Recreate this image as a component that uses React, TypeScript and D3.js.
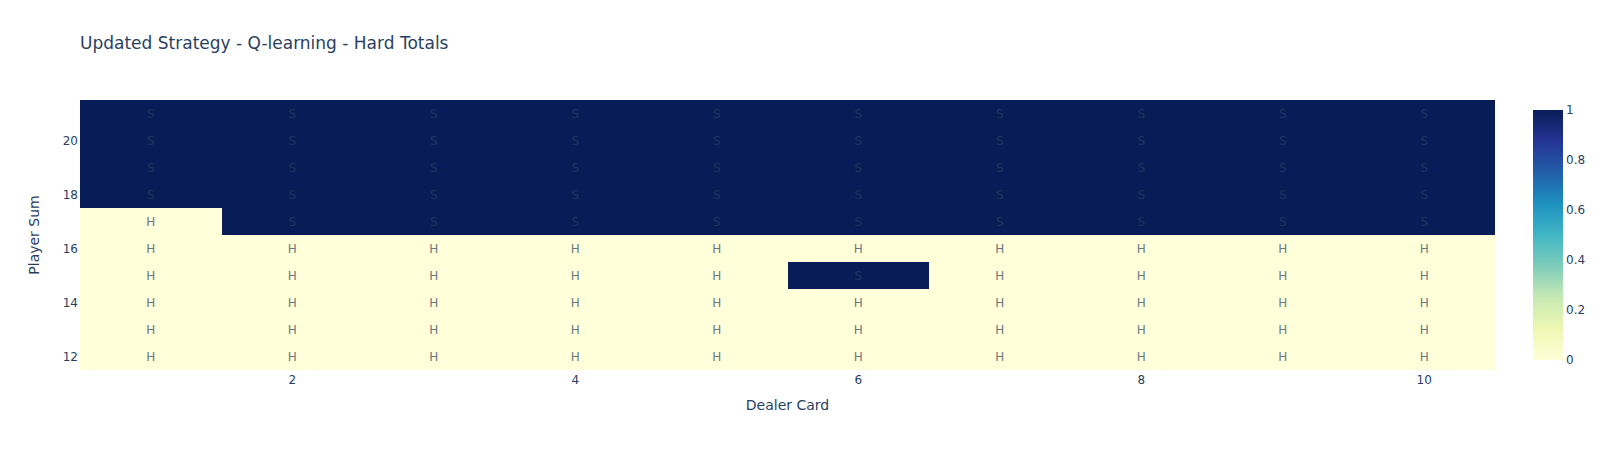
import { useEffect, useRef } from 'react'
import * as d3 from 'd3'

// dealer upcard columns, player sum rows
const dealerCards = [1, 2, 3, 4, 5, 6, 7, 8, 9, 10]
const playerSums = [12, 13, 14, 15, 16, 17, 18, 19, 20, 21]

// 1 = stick (S), 0 = hit (H); one row per player sum, bottom to top
const row12 = [0, 0, 0, 0, 0, 0, 0, 0, 0, 0]
const row13 = [0, 0, 0, 0, 0, 0, 0, 0, 0, 0]
const row14 = [0, 0, 0, 0, 0, 0, 0, 0, 0, 0]
const row15 = [0, 0, 0, 0, 0, 1, 0, 0, 0, 0]
const row16 = [0, 0, 0, 0, 0, 0, 0, 0, 0, 0]
const row17 = [0, 1, 1, 1, 1, 1, 1, 1, 1, 1]
const row18 = [1, 1, 1, 1, 1, 1, 1, 1, 1, 1]
const row19 = [1, 1, 1, 1, 1, 1, 1, 1, 1, 1]
const row20 = [1, 1, 1, 1, 1, 1, 1, 1, 1, 1]
const row21 = [1, 1, 1, 1, 1, 1, 1, 1, 1, 1]
const actions = [row12, row13, row14, row15, row16, row17, row18, row19, row20, row21]

const xTicks = [2, 4, 6, 8, 10]
const yTicks = [12, 14, 16, 18, 20]
const colorTicks = [0, 0.2, 0.4, 0.6, 0.8, 1]

// plotly YlGnBu
const ylgnbu = ['rgb(255,255,217)', 'rgb(237,248,177)', 'rgb(199,233,180)', 'rgb(127,205,187)', 'rgb(65,182,196)', 'rgb(29,145,192)', 'rgb(34,94,168)', 'rgb(37,52,148)', 'rgb(8,29,88)']

export default function App() {
  const svgRef = useRef<SVGSVGElement>(null)

  useEffect(() => {
    if (!svgRef.current) return
    const svg = d3.select(svgRef.current)
    svg.selectAll('*').remove()

    const width = 1605
    const height = 450
    const margin = { top: 100, right: 110, bottom: 80, left: 80 }
    const font = 'Verdana, "DejaVu Sans", sans-serif'
    const textColor = '#2a3f5f'

    svg.attr('width', width).attr('height', height).style('font-family', font)

    const x = d3.scaleLinear().domain([0.5, 10.5]).range([margin.left, width - margin.right])
    const y = d3.scaleLinear().domain([11.5, 21.5]).range([height - margin.bottom, margin.top])

    const color = d3.scaleLinear<string>()
      .domain(d3.range(ylgnbu.length).map(i => i / (ylgnbu.length - 1)))
      .range(ylgnbu)
      .interpolate(d3.interpolateRgb)

    const cells = playerSums.flatMap((sum, i) =>
      dealerCards.map((card, j) => ({ card, sum, v: actions[i][j] })))

    // heatmap cells
    svg.append('g').selectAll('rect')
      .data(cells)
      .enter().append('rect')
      .attr('x', d => x(d.card - 0.5))
      .attr('y', d => y(d.sum + 0.5))
      .attr('width', d => x(d.card + 0.5) - x(d.card - 0.5))
      .attr('height', d => y(d.sum - 0.5) - y(d.sum + 0.5))
      .attr('fill', d => color(d.v))
      .attr('shape-rendering', 'crispEdges')

    // cell labels
    svg.append('g').selectAll('text')
      .data(cells)
      .enter().append('text')
      .attr('x', d => x(d.card))
      .attr('y', d => y(d.sum))
      .attr('dy', '0.35em')
      .attr('text-anchor', 'middle')
      .style('font-size', '12px')
      .style('fill', textColor)
      .style('opacity', 0.7)
      .text(d => (d.v === 1 ? 'S' : 'H'))

    // x axis ticks
    svg.append('g').selectAll('text')
      .data(xTicks)
      .enter().append('text')
      .attr('x', d => x(d))
      .attr('y', height - margin.bottom + 14)
      .attr('text-anchor', 'middle')
      .style('font-size', '12px')
      .style('fill', textColor)
      .text(d => d)

    // y axis ticks
    svg.append('g').selectAll('text')
      .data(yTicks)
      .enter().append('text')
      .attr('x', margin.left - 2)
      .attr('y', d => y(d))
      .attr('dy', '0.35em')
      .attr('text-anchor', 'end')
      .style('font-size', '12px')
      .style('fill', textColor)
      .text(d => d)

    svg.append('text')
      .attr('x', (x(0.5) + x(10.5)) / 2)
      .attr('y', 410)
      .attr('text-anchor', 'middle')
      .style('font-size', '14px')
      .style('fill', textColor)
      .text('Dealer Card')

    svg.append('text')
      .attr('transform', `translate(39,${(y(11.5) + y(21.5)) / 2}) rotate(-90)`)
      .attr('text-anchor', 'middle')
      .style('font-size', '14px')
      .style('fill', textColor)
      .text('Player Sum')

    svg.append('text')
      .attr('x', 80)
      .attr('y', 49)
      .style('font-size', '17px')
      .style('fill', textColor)
      .text('Updated Strategy - Q-learning - Hard Totals')

    // colorbar
    const cbX = 1533
    const cbW = 30
    const cy = d3.scaleLinear().domain([0, 1]).range([360, 110])
    const defs = svg.append('defs')
    const grad = defs.append('linearGradient')
      .attr('id', 'cbgrad')
      .attr('x1', 0).attr('y1', 1).attr('x2', 0).attr('y2', 0)
    ylgnbu.forEach((c, i) => {
      grad.append('stop')
        .attr('offset', i / (ylgnbu.length - 1))
        .attr('stop-color', c)
    })
    svg.append('rect')
      .attr('x', cbX)
      .attr('y', cy(1))
      .attr('width', cbW)
      .attr('height', cy(0) - cy(1))
      .attr('fill', 'url(#cbgrad)')

    svg.append('g').selectAll('text')
      .data(colorTicks)
      .enter().append('text')
      .attr('x', cbX + cbW + 3)
      .attr('y', d => cy(d))
      .attr('dy', '0.35em')
      .style('font-size', '12px')
      .style('fill', textColor)
      .text(d => d3.format('~g')(d))
  }, [])

  return <svg ref={svgRef} style={{ position: 'absolute', left: 0, top: 0 }}></svg>
}
